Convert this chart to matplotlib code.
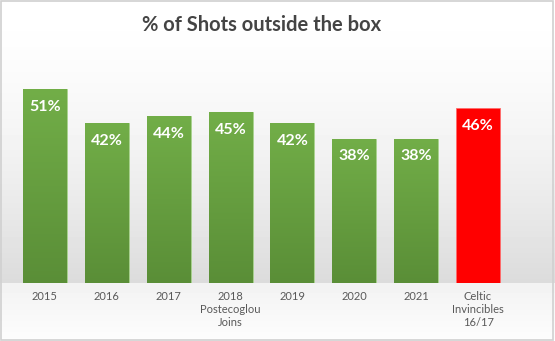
import numpy as np
import matplotlib.pyplot as plt
from matplotlib.patches import Rectangle
from matplotlib.colors import LinearSegmentedColormap

# data
categories = ['2015', '2016', '2017', '2018\nPostecoglou\nJoins', '2019',
              '2020', '2021', 'Celtic\nInvincibles\n16/17']
shot_pct = [51, 42, 44, 45, 42, 38, 38, 46]
highlight = [False, False, False, False, False, False, False, True]

plt.rcParams['font.family'] = ['Lato', 'DejaVu Sans']

fig = plt.figure(figsize=(5.55, 3.41), dpi=100)

# background gradient over the whole figure
bg = fig.add_axes([0, 0, 1, 1], zorder=-10)
bg.set_axis_off()
yy = np.linspace(0, 1, 341)
shade = np.where(yy < 283 / 341,
                 1.0 - 0.14 * (yy / (283 / 341)) ** 1.6,
                 0.95 + 0.04 * (yy - 283 / 341) / (1 - 283 / 341))
bg.imshow(np.repeat(shade[:, None], 2, axis=1), cmap='gray', vmin=0, vmax=1,
          aspect='auto', extent=[0, 1, 1, 0])
bg.add_patch(Rectangle((0.002, 0.003), 0.995, 0.993, fill=False,
                       edgecolor='#d0d0d0', lw=1.2, transform=bg.transAxes))
bg.set_xlim(0, 1)
bg.set_ylim(1, 0)

ax = fig.add_axes([14 / 555, (341 - 283) / 341, 495 / 555, 228 / 341])
ax.set_facecolor('none')
x = np.arange(len(categories))
n = len(categories)

green = LinearSegmentedColormap.from_list('g', ['#5a8e37', '#72ae48'])
width = 0.71
gap = 1 - width

# shadow band between the bars (slanted, blurred top edge)
sx = np.linspace(-0.5, n - 0.5, 800)
sy = np.linspace(0, 20, 160)
SX, SY = np.meshgrid(sx, sy)
d = (SX + 0.5 - width / 2) % 1.0  # distance from right edge of bar on the left
owner = np.floor(SX + 0.5 - width / 2)
in_gap = (d < gap) & (owner >= 0) & (owner <= n - 1)
top = 6.5 + 5.5 * d / gap
alpha = 0.32 / (1 + np.exp((SY - top) / 1.0))
alpha = np.where(in_gap, alpha, 0)
# last bar: shadow only a short way to the right, fading out
last = owner == n - 1
alpha = np.where(last, alpha * np.clip(1 - d / 0.17, 0, 1), alpha)
sh = np.zeros(SX.shape + (4,))
sh[..., :3] = 0.3
sh[..., 3] = alpha
ax.imshow(sh, aspect='auto', origin='lower', extent=[-0.5, n - 0.5, 0, 20],
          zorder=1, interpolation='bilinear')

bars = ax.bar(x, shot_pct, width=width, zorder=2, linewidth=0.6)
grad = np.linspace(0, 1, 256)[:, None]
for b, hl in zip(bars, highlight):
    if hl:
        b.set_facecolor('#ff0000')
        b.set_edgecolor('#ff6b6b')
    else:
        b.set_facecolor('none')
        b.set_edgecolor('#9ccc7e')
        x0, w, h = b.get_x(), b.get_width(), b.get_height()
        im = ax.imshow(grad, cmap=green, aspect='auto', origin='lower',
                       extent=[x0, x0 + w, 0, h], zorder=2)
        im.set_clip_path(b)

for xi, v in zip(x, shot_pct):
    ax.text(xi, v - 4.7, f'{v}%', ha='center', va='center', color='white',
            fontsize=11.5, fontweight='bold', zorder=3)

ax.set_xticks(x)
ax.set_xticklabels(categories, fontsize=8, color='#595959', linespacing=1.2)
ax.tick_params(axis='x', length=0, pad=6)
ax.set_yticks([])
for s in ax.spines.values():
    s.set_visible(False)
ax.set_xlim(-0.5, n - 0.5)
ax.set_ylim(0, 60)

fig.text(262 / 555, 1 - 25 / 341, '% of Shots outside the box', ha='center',
         va='center', fontsize=14.5, fontweight='bold', color='#444444')

fig.savefig('out.png', dpi=100)
